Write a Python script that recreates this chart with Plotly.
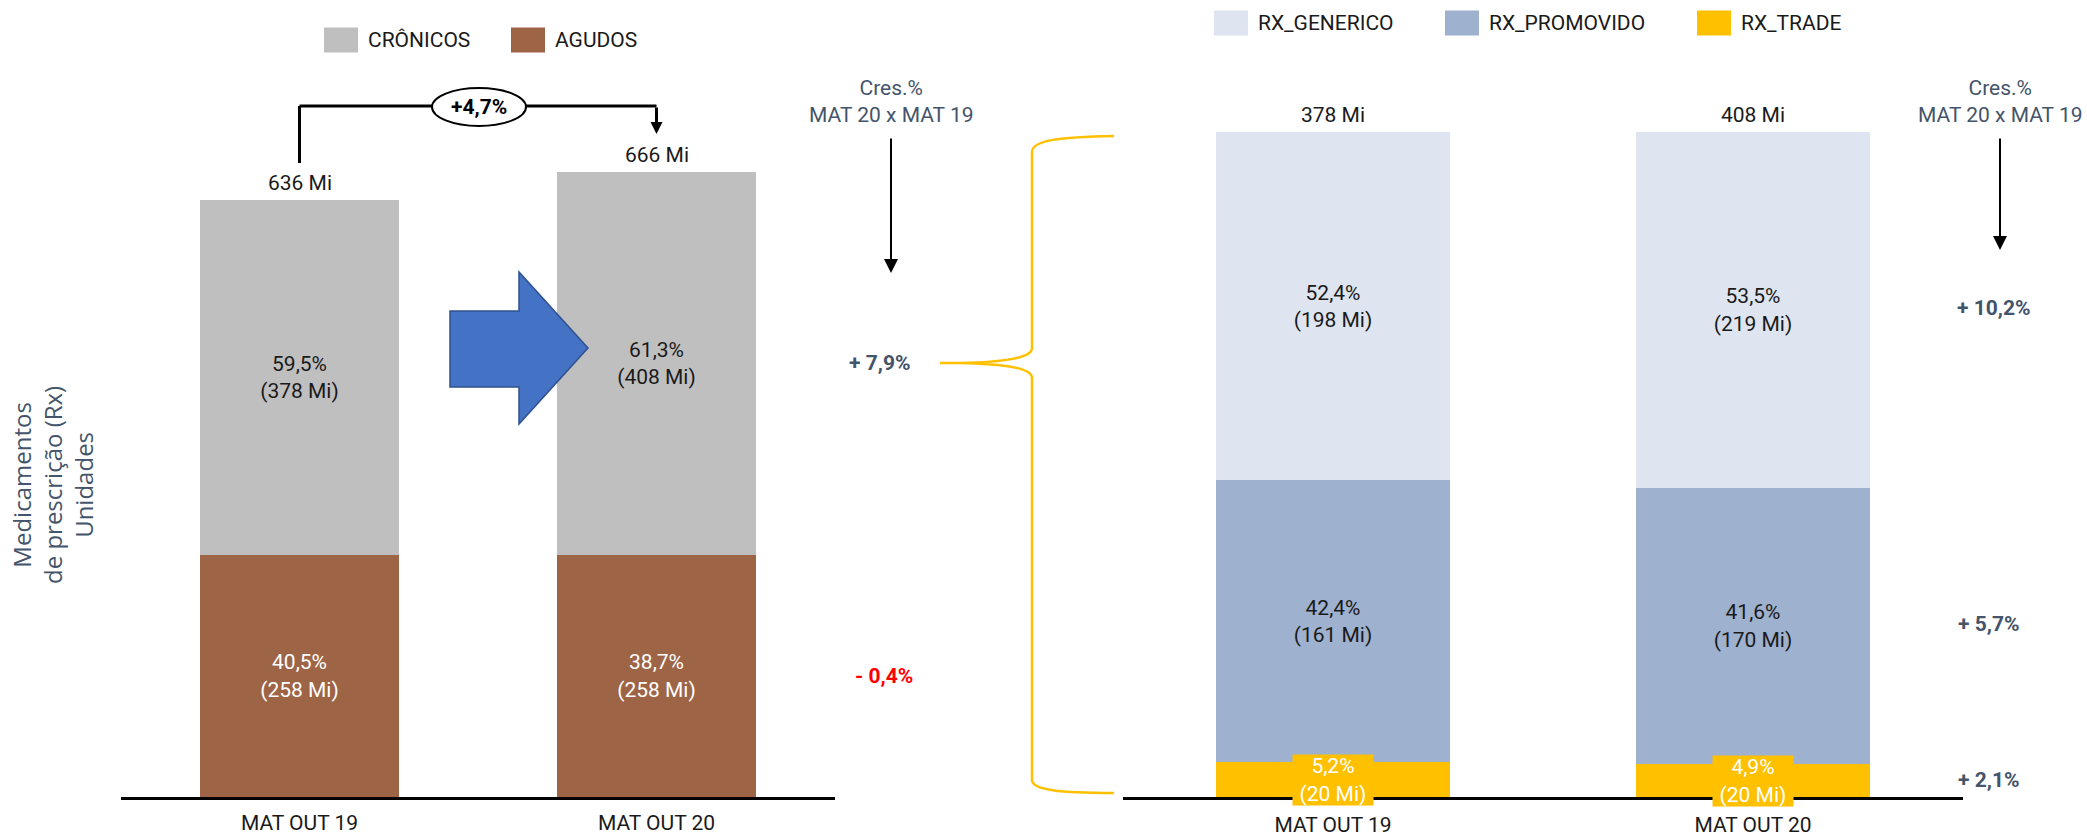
import plotly.graph_objects as go

# ---------------- data ----------------
periods = ["MAT OUT 19", "MAT OUT 20"]

cronicos_mi = [378, 408]
agudos_mi = [258, 258]
cronicos_pct = [59.5, 61.3]
agudos_pct = [40.5, 38.7]
totais_mi = [636, 666]
crescimento_total = "+4,7%"
cres_left = ["+ 7,9%", "- 0,4%"]          # crônicos, agudos

rx_generico_pct = [52.4, 53.5]
rx_generico_mi = [198, 219]
rx_promovido_pct = [42.4, 41.6]
rx_promovido_mi = [161, 170]
rx_trade_pct = [5.2, 4.9]
rx_trade_mi = [20, 20]
rx_totais_mi = [378, 408]
cres_right = ["+ 10,2%", "+ 5,7%", "+ 2,1%"]  # generico, promovido, trade

cres_title = "Cres.%<br>MAT 20 x MAT 19"
ytitle = "Medicamentos<br>de prescrição (Rx)<br>Unidades"

# ---------------- style ----------------
W, H = 2087, 839
FONT = "Roboto, Liberation Sans, sans-serif"
FS = 21
SLATE = "#44546A"
C_CRON, C_AGU = "#BFBFBF", "#9E6446"
C_GEN, C_PRO, C_TRA = "#DEE5F0", "#9EB1CF", "#FFC000"
TXT = "#1a1a1a"


def px(x):
    return x / W


def py(y):
    return 1 - y / H


def fmt(v):
    return f"{v:.1f}".replace(".", ",") + "%"


def lab(p, m):
    return f"{fmt(p)}<br>({m} Mi)"


def A(**kw):
    d = dict(xanchor="center", yanchor="middle", showarrow=False)
    d.update(kw)
    return d


YSCALE = 0.939  # px per Mi on the left chart
left_top = 100
left_range = (797 - left_top) / YSCALE

fig = go.Figure()

bar_common = dict(width=0.555, hoverinfo="skip", showlegend=False, textposition="inside",
                  insidetextanchor="middle", textangle=0)

# left chart
fig.add_trace(go.Bar(
    x=periods, y=agudos_mi, name="AGUDOS", marker=dict(color=C_AGU, line=dict(width=0)),
    text=[lab(p, m) for p, m in zip(agudos_pct, agudos_mi)],
    textfont=dict(family=FONT, size=FS, color="white"), xaxis="x", yaxis="y", **bar_common))
fig.add_trace(go.Bar(
    x=periods, y=cronicos_mi, name="CRÔNICOS", marker=dict(color=C_CRON, line=dict(width=0)),
    text=[lab(p, m) for p, m in zip(cronicos_pct, cronicos_mi)],
    textfont=dict(family=FONT, size=FS, color=TXT), xaxis="x", yaxis="y", **bar_common))

# right chart (100% stacked)
fig.add_trace(go.Bar(
    x=periods, y=rx_trade_pct, name="RX_TRADE", marker=dict(color=C_TRA, line=dict(width=0)),
    text=["", ""], xaxis="x2", yaxis="y2", **bar_common))
fig.add_trace(go.Bar(
    x=periods, y=rx_promovido_pct, name="RX_PROMOVIDO", marker=dict(color=C_PRO, line=dict(width=0)),
    text=[lab(p, m) for p, m in zip(rx_promovido_pct, rx_promovido_mi)],
    textfont=dict(family=FONT, size=FS, color=TXT), xaxis="x2", yaxis="y2", **bar_common))
fig.add_trace(go.Bar(
    x=periods, y=rx_generico_pct, name="RX_GENERICO", marker=dict(color=C_GEN, line=dict(width=0)),
    text=[lab(p, m) for p, m in zip(rx_generico_pct, rx_generico_mi)],
    textfont=dict(family=FONT, size=FS, color=TXT), xaxis="x2", yaxis="y2", **bar_common))

ann = []
shapes = []

# totals above bars
for p, t in zip(periods, totais_mi):
    ann.append(A(x=p, y=t, xref="x", yref="y", text=f"{t} Mi", yshift=17,
                 font=dict(family=FONT, size=FS, color=TXT)))
for p, t in zip(periods, rx_totais_mi):
    ann.append(A(x=p, y=100, xref="x2", yref="y2", text=f"{t} Mi", yshift=17,
                 font=dict(family=FONT, size=FS, color=TXT)))

# trade labels with yellow box
for p, v, m in zip(periods, rx_trade_pct, rx_trade_mi):
    ann.append(A(x=p, y=v / 2, xref="x2", yref="y2", text=lab(v, m),
                 bgcolor=C_TRA, width=80, height=50, borderpad=0,
                 font=dict(family=FONT, size=FS, color="white")))

# growth bracket on left chart
shapes.append(dict(type="line", xref="x", yref="paper", x0=periods[0], x1=periods[0],
                   y0=py(163), y1=py(106), line=dict(color="black", width=3)))
shapes.append(dict(type="line", xref="x", yref="paper", x0=periods[0], x1=periods[1],
                   y0=py(106), y1=py(106), line=dict(color="black", width=3)))
ann.append(dict(x=periods[1], y=py(134), xref="x", yref="paper", ax=0, ay=-28, axref="pixel",
                ayref="pixel", showarrow=True, arrowhead=2, arrowsize=0.8, arrowwidth=3,
                arrowcolor="black", text=""))
shapes.append(dict(type="circle", xref="paper", yref="paper", x0=px(432), x1=px(526),
                   y0=py(126), y1=py(88), fillcolor="white", line=dict(color="black", width=2)))
ann.append(A(x=px(479), y=py(107), xref="paper", yref="paper", text=f"<b>{crescimento_total}</b>",
             font=dict(family=FONT, size=FS, color="black")))

# blue arrow between bars
arrow_pts = [(450, 311), (519, 311), (519, 272), (588, 348), (519, 424), (519, 387), (450, 387)]
path = "M " + " L ".join(f"{px(x):.5f},{py(y):.5f}" for x, y in arrow_pts) + " Z"
shapes.append(dict(type="path", xref="paper", yref="paper", path=path, fillcolor="#4472C4",
                   line=dict(color="#2F528F", width=1.5), layer="above"))

# yellow brace
bp = [("M", [(1114, 136)]), ("C", [(1060, 137), (1032, 140), (1032, 152)]), ("L", [(1032, 348)]),
      ("C", [(1032, 358), (1005, 362), (960, 363)]), ("L", [(940, 363)]), ("L", [(960, 363)]),
      ("C", [(1005, 364), (1032, 368), (1032, 378)]), ("L", [(1032, 780)]),
      ("C", [(1032, 790), (1060, 793), (1114, 793)])]
bpath = " ".join(c + " " + " ".join(f"{px(x):.5f},{py(y):.5f}" for x, y in pts) for c, pts in bp)
shapes.append(dict(type="path", xref="paper", yref="paper", path=bpath,
                   line=dict(color=C_TRA, width=2.5)))

# Cres.% headers and arrows
for xc, yend in [(891, 273), (2000, 250)]:
    ann.append(A(x=px(xc), y=py(101), xref="paper", yref="paper", text=cres_title,
                 font=dict(family=FONT, size=FS, color=SLATE)))
    ann.append(dict(x=px(xc), y=py(yend), xref="paper", yref="paper", ax=0, ay=-(yend - 137),
                    axref="pixel", ayref="pixel", showarrow=True, arrowhead=2, arrowsize=1.4,
                    arrowwidth=2, arrowcolor="black", text=""))

# growth values, left
mid_cron = agudos_mi[1] + cronicos_mi[1] / 2
mid_agu = agudos_mi[1] / 2
ann.append(A(x=px(879), y=mid_cron, xref="paper", yref="y", text=f"<b>{cres_left[0]}</b>",
             font=dict(family=FONT, size=FS, color=SLATE)))
ann.append(A(x=px(884), y=mid_agu, xref="paper", yref="y", text=f"<b>{cres_left[1]}</b>",
             font=dict(family=FONT, size=FS, color="#FF0000")))

# growth values, right (mean segment middles of both bars)
mids = [
    ((rx_trade_pct[0] + rx_promovido_pct[0] + 100) / 2 + (rx_trade_pct[1] + rx_promovido_pct[1] + 100) / 2) / 2,
    (rx_trade_pct[0] + rx_promovido_pct[0] / 2 + rx_trade_pct[1] + rx_promovido_pct[1] / 2) / 2,
    (rx_trade_pct[0] + rx_trade_pct[1]) / 4,
]
for xc, m, t in zip([1994, 1988, 1988], mids, cres_right):
    ann.append(A(x=px(xc), y=m, xref="paper", yref="y2", text=f"<b>{t}</b>",
                 font=dict(family=FONT, size=FS, color=SLATE)))

# y title
ann.append(A(x=px(52), y=py(485), xref="paper", yref="paper", text=ytitle, textangle=-90,
             font=dict(family="Open Sans, sans-serif", size=24, color=SLATE)))

# manual legends (large swatches)
legend_items = [
    ("CRÔNICOS", C_CRON, 324, 40), ("AGUDOS", C_AGU, 511, 40),
    ("RX_GENERICO", C_GEN, 1214, 23), ("RX_PROMOVIDO", C_PRO, 1445, 23), ("RX_TRADE", C_TRA, 1697, 23),
]
for name, col, x0, yc in legend_items:
    shapes.append(dict(type="rect", xref="paper", yref="paper", x0=px(x0), x1=px(x0 + 34),
                       y0=py(yc + 12.5), y1=py(yc - 12.5), fillcolor=col, line=dict(width=0)))
    ann.append(A(x=px(x0 + 42), y=py(yc), xref="paper", yref="paper", text=name, xanchor="left",
                 font=dict(family=FONT, size=FS, color=TXT)))

axis_common = dict(type="category", range=[-0.5, 1.5], showgrid=False, zeroline=False,
                   showline=True, linecolor="black", linewidth=3, ticks="",
                   tickfont=dict(family=FONT, size=FS, color=TXT), fixedrange=True)

fig.update_layout(
    width=W, height=H, margin=dict(l=0, r=0, t=0, b=0, autoexpand=False),
    paper_bgcolor="white", plot_bgcolor="rgba(0,0,0,0)",
    barmode="stack",
    xaxis=dict(domain=[px(121), px(835)], anchor="y", ticklabelstandoff=5, **axis_common),
    yaxis=dict(domain=[py(797), py(left_top)], range=[0, left_range], visible=False, fixedrange=True),
    xaxis2=dict(domain=[px(1123), px(1963)], anchor="y2", ticklabelstandoff=7, **axis_common),
    yaxis2=dict(domain=[py(797), py(132)], range=[0, 100], visible=False, fixedrange=True),
    annotations=ann, shapes=shapes, showlegend=False,
    uniformtext=dict(minsize=FS - 2, mode="show"),
)

fig.write_html(
    "out.html",
    config={"displayModeBar": False},
    post_script="document.body.style.margin='0';document.body.style.overflow='hidden';",
)
